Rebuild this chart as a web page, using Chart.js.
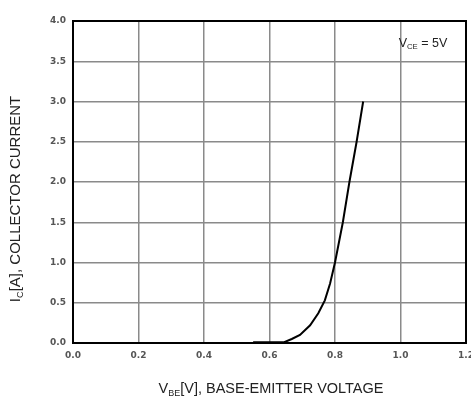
<!DOCTYPE html>
<html>
<head>
<meta charset="utf-8">
<script src="https://cdn.jsdelivr.net/npm/chart.js@4/dist/chart.umd.min.js"></script>
<style>
  html, body { margin: 0; padding: 0; background: #fff; }
  #wrap { width: 471px; height: 405px; position: relative; }
</style>
</head>
<body>
<div id="wrap"><canvas id="c"></canvas></div>
<script>
// Ic vs Vbe, Vce = 5V — точки
const vbe = [0.55, 0.60, 0.645, 0.668, 0.693, 0.724, 0.749, 0.769, 0.785, 0.80, 0.824, 0.844, 0.866, 0.886];
const ic  = [0.01, 0.01, 0.01, 0.05, 0.10, 0.22, 0.37, 0.53, 0.74, 1.00, 1.50, 2.00, 2.50, 3.00];

const xTicks = [0.0, 0.2, 0.4, 0.6, 0.8, 1.0, 1.2];
const yTicks = [0.0, 0.5, 1.0, 1.5, 2.0, 2.5, 3.0, 3.5, 4.0];

const FONT = '"Liberation Sans", Arial, sans-serif';
const TICK_FONT = '"DejaVu Sans", sans-serif';

// текст с нижним индексом: [основа, индекс, хвост]
function drawSub(ctx, parts, size) {
  const [base, sub, tail] = parts;
  ctx.font = size + 'px ' + FONT;
  const wb = ctx.measureText(base).width;
  const wt = ctx.measureText(tail).width;
  ctx.font = (size * 0.62) + 'px ' + FONT;
  const ws = ctx.measureText(sub).width;
  const total = wb + ws + wt;
  let x = -total / 2;
  ctx.textAlign = 'left';
  ctx.textBaseline = 'alphabetic';
  ctx.font = size + 'px ' + FONT;
  ctx.fillText(base, x, 0); x += wb;
  ctx.font = (size * 0.62) + 'px ' + FONT;
  ctx.fillText(sub, x, size * 0.18); x += ws;
  ctx.font = size + 'px ' + FONT;
  ctx.fillText(tail, x, 0);
}

const frame = {
  id: 'frame',
  afterDraw(chart) {
    const { ctx, chartArea: a } = chart;
    ctx.save();
    ctx.strokeStyle = '#000';
    ctx.lineWidth = 2;
    ctx.strokeRect(a.left, a.top, a.right - a.left, a.bottom - a.top);

    ctx.fillStyle = '#222';
    // ось Y
    ctx.save();
    ctx.translate(20, 199);
    ctx.rotate(-Math.PI / 2);
    drawSub(ctx, ['I', 'C', '[A], COLLECTOR CURRENT'], 15);
    ctx.restore();
    // ось X
    ctx.save();
    ctx.translate(271, 393);
    drawSub(ctx, ['V', 'BE', '[V], BASE-EMITTER VOLTAGE'], 14.5);
    ctx.restore();
    // подпись условия
    ctx.save();
    ctx.translate(423, 47);
    drawSub(ctx, ['V', 'CE', ' = 5V'], 12.5);
    ctx.restore();
    ctx.restore();
  }
};

const points = vbe.map((v, i) => ({ x: v, y: ic[i] }));

new Chart(document.getElementById('c'), {
  type: 'scatter',
  data: {
    datasets: [{
      data: points,
      showLine: true,
      borderColor: '#000',
      borderWidth: 2,
      pointRadius: 0,
      tension: 0,
    }]
  },
  options: {
    responsive: true,
    maintainAspectRatio: false,
    animation: false,
    layout: { padding: { top: 21, right: 5, left: 0, bottom: 0 } },
    plugins: { legend: { display: false }, tooltip: { enabled: false } },
    scales: {
      x: {
        type: 'linear',
        min: 0, max: 1.2,
        afterBuildTicks: s => { s.ticks = xTicks.map(v => ({ value: v })); },
        afterFit: s => { s.height = 62; s.paddingLeft = 0; s.paddingRight = 0; },
        grid: { color: '#8a8a8a', lineWidth: 1.5, drawTicks: false },
        border: { display: false },
        ticks: {
          padding: 7,
          color: '#555',
          font: { family: TICK_FONT, size: 9, weight: 'bold' },
          callback: v => v.toFixed(1),
          maxRotation: 0,
        },
      },
      y: {
        min: 0, max: 4,
        afterBuildTicks: s => { s.ticks = yTicks.map(v => ({ value: v })); },
        afterFit: s => { s.width = 73; s.paddingTop = 0; s.paddingBottom = 0; },
        grid: { color: '#8a8a8a', lineWidth: 1.5, drawTicks: false },
        border: { display: false },
        ticks: {
          padding: 7,
          color: '#555',
          font: { family: TICK_FONT, size: 9, weight: 'bold' },
          callback: v => v.toFixed(1),
        },
      },
    },
  },
  plugins: [frame],
});
</script>
</body>
</html>
